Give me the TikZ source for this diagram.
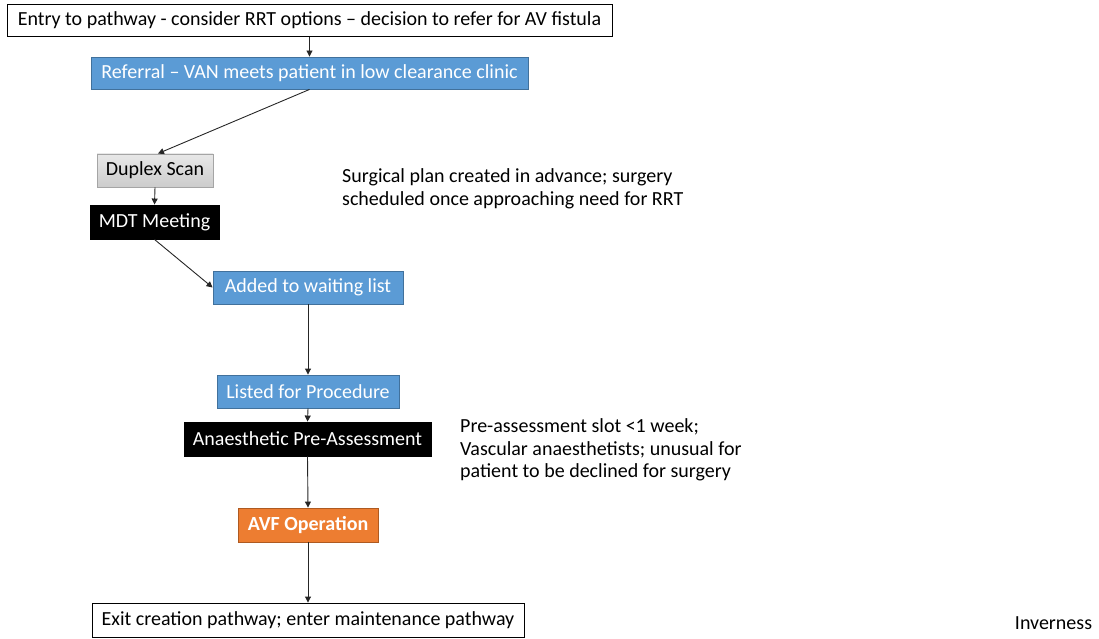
\documentclass[tikz,border=0pt]{standalone}
\usepackage{fontspec}
\setmainfont{Carlito}
\usetikzlibrary{arrows.meta}
\definecolor{accentblue}{HTML}{5B9BD5}
\definecolor{accentblueline}{HTML}{41719C}
\definecolor{accentorange}{HTML}{ED7D31}
\definecolor{accentorangeline}{HTML}{AE5A21}
\definecolor{scangray}{HTML}{D0D0D0}
\definecolor{scangrayline}{HTML}{A5A5A5}
\tikzset{
  box/.style={rectangle, inner sep=0pt, align=center, font=\fontsize{20}{24}\selectfont, line width=0.9pt},
  plainbox/.style={box, draw=black, fill=white, text=black},
  bluebox/.style={box, draw=accentblueline, fill=accentblue, text=white},
  blackbox/.style={box, draw=black, fill=black, text=white},
  graybox/.style={box, draw=scangrayline, top color=gray!18, bottom color=gray!40, text=black},
  orangebox/.style={box, draw=accentorangeline, fill=accentorange, text=white, font=\fontsize{20}{24}\selectfont\bfseries},
  note/.style={inner sep=0pt, align=left, font=\fontsize{20}{22.5}\selectfont},
  flow/.style={draw=black!85, line width=0.9pt, -{Triangle[width=6pt,length=6pt]}}
}
\begin{document}
\begin{tikzpicture}[x=1pt,y=-1pt]
\useasboundingbox (0,0) rectangle (1099,639);

\node[plainbox, minimum width=605, minimum height=32] (entry) at (309.5,20.5) {Entry to pathway - consider RRT options – decision to refer for AV fistula};
\node[bluebox, minimum width=437, minimum height=32] (referral) at (309.5,73) {Referral – VAN meets patient in low clearance clinic};
\node[graybox, minimum width=116, minimum height=33] (duplex) at (155,170.5) {Duplex Scan};
\node[blackbox, minimum width=129, minimum height=34] (mdt) at (154.5,222) {MDT Meeting};
\node[bluebox, minimum width=190, minimum height=33] (added) at (308,287.5) {Added to waiting list};
\node[bluebox, minimum width=182, minimum height=33] (listed) at (308,391.5) {Listed for Procedure};
\node[blackbox, minimum width=247, minimum height=34] (anaes) at (307.5,439) {Anaesthetic Pre-Assessment};
\node[orangebox, minimum width=140, minimum height=34] (avf) at (308,525) {AVF Operation};
\node[plainbox, minimum width=432, minimum height=34] (exit) at (308,620) {Exit creation pathway; enter maintenance pathway};

\node[note, anchor=west] (plan) at (342,189) {Surgical plan created in advance; surgery\\scheduled once approaching need for RRT};
\node[note, anchor=west] (preassess) at (460,450) {Pre-assessment slot <1 week;\\Vascular anaesthetists; unusual for\\patient to be declined for surgery};
\node[note, anchor=center] (place) at (1053.5,623) {Inverness};

\draw[flow] (entry.south) -- (referral.north);
\draw[flow] (referral.south) -- ([xshift=3pt]duplex.north);
\draw[flow] (duplex.south) -- (mdt.north);
\draw[flow] (mdt.south) -- (added.west);
\draw[flow] (added.south) -- (listed.north);
\draw[flow] (listed.south) -- (anaes.north);
\draw[flow] (anaes.south) -- (avf.north);
\draw[flow] (avf.south) -- (exit.north);
\end{tikzpicture}
\end{document}
